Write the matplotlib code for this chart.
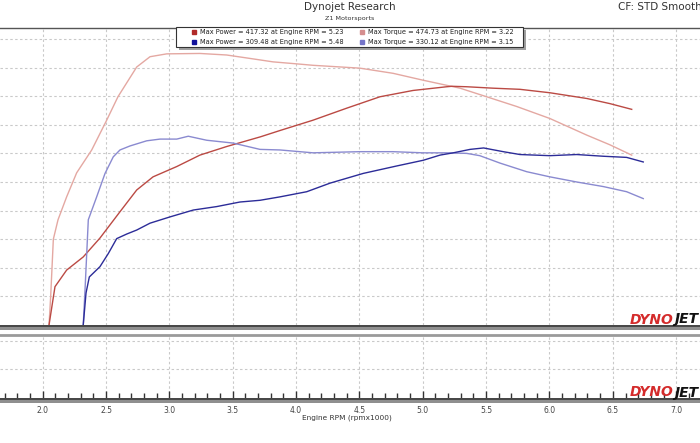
import numpy as np
import matplotlib.pyplot as plt
from matplotlib.patches import Rectangle
from matplotlib.lines import Line2D

# run 1 (rouge) - couple
rpm_tq1 = [2.05, 2.063, 2.084, 2.121, 2.189, 2.268, 2.387, 2.505, 2.594, 2.742, 2.847, 2.979,
           3.241, 3.452, 3.636, 3.818, 4.031, 4.133, 4.504, 4.765, 5.001, 5.189, 5.294, 5.504,
           5.741, 6.003, 6.294, 6.477, 6.649]
tq1 = [0, 50, 150, 184, 224, 266, 306, 358, 399, 451, 469, 474, 474.7, 472, 466, 460, 456, 454,
       449, 440, 428, 419, 414, 399, 382, 361, 332, 315, 297]
# run 1 (rouge) - puissance
rpm_hp1 = [2.05, 2.097, 2.189, 2.32, 2.452, 2.61, 2.742, 2.871, 3.058, 3.241, 3.452, 3.719, 3.873,
           4.133, 4.399, 4.662, 4.923, 5.189, 5.23, 5.347, 5.554, 5.767, 6.003, 6.294, 6.477, 6.649]
hp1 = [0, 67, 96, 119, 152, 198, 236, 259, 277, 297, 312, 329, 340, 358, 379, 399, 410, 416.5,
       417.3, 416.5, 414, 412, 406, 396, 387, 377]
# run 2 (bleu) - couple
rpm_tq2 = [2.32, 2.334, 2.36, 2.426, 2.492, 2.557, 2.61, 2.689, 2.821, 2.926, 3.058, 3.149, 3.294,
           3.504, 3.715, 3.873, 4.133, 4.504, 4.765, 5.001, 5.189, 5.347, 5.45, 5.61, 5.82, 6.003,
           6.215, 6.425, 6.609, 6.74]
tq2 = [0, 61, 184, 224, 265, 294, 306, 313, 322, 325, 325, 330, 323, 318, 307, 306, 301, 303, 303,
       301, 301, 300, 296, 283, 268, 259, 250, 242, 233, 221]
# run 2 (bleu) - puissance
rpm_hp2 = [2.32, 2.342, 2.368, 2.452, 2.518, 2.584, 2.663, 2.742, 2.847, 3.005, 3.189, 3.373, 3.557,
           3.715, 3.873, 4.084, 4.268, 4.53, 4.794, 5.004, 5.136, 5.241, 5.373, 5.48, 5.635, 5.767,
           6.003, 6.215, 6.425, 6.609, 6.74]
hp2 = [0, 56, 84, 102, 125, 151, 159, 166, 178, 189, 201, 207, 215, 218, 224, 233, 248, 265, 278,
       288, 297, 301, 307, 309.5, 303, 298, 296, 298, 295, 293, 285]

legend_labels = ["Max Power = 417.32 at Engine RPM = 5.23",
                 "Max Power = 309.48 at Engine RPM = 5.48",
                 "Max Torque = 474.73 at Engine RPM = 3.22",
                 "Max Torque = 330.12 at Engine RPM = 3.15"]
xticks = [2.0, 2.5, 3.0, 3.5, 4.0, 4.5, 5.0, 5.5, 6.0, 6.5, 7.0]

c_hp1, c_tq1 = '#bb4a44', '#e4a8a2'
c_hp2, c_tq2 = '#2c2c98', '#8a8ad0'
grid_kw = dict(color='#c9c9c9', ls=(0, (2.2, 2.2)), lw=0.8)

W, H = 700, 443
fig = plt.figure(figsize=(7, 4.43), dpi=100)
def fx(px): return px / W
def fy(py): return 1 - py / H

# panneau du haut
ax = fig.add_axes([0, fy(325), 1, (325 - 28) / H])
ax.set_xlim(1.663, 7.188)
ax.set_ylim(0, 519.2)
ax.set_xticks(xticks)
ax.set_yticks(np.arange(50, 501, 50))
ax.tick_params(length=0, labelbottom=False, labelleft=False)
ax.grid(True, **grid_kw)
for s in ['left', 'right', 'bottom']:
    ax.spines[s].set_visible(False)
ax.spines['top'].set_color('#555555')
ax.spines['top'].set_linewidth(1)

ax.plot(rpm_tq1, tq1, color=c_tq1, lw=1)
ax.plot(rpm_hp1, hp1, color=c_hp1, lw=1)
ax.plot(rpm_tq2, tq2, color=c_tq2, lw=1)
ax.plot(rpm_hp2, hp2, color=c_hp2, lw=1)

# panneau du bas
ax2 = fig.add_axes([0, fy(398), 1, (398 - 335) / H])
ax2.set_xlim(1.663, 7.188)
ax2.set_ylim(0, 63 / 28.6)
ax2.set_yticks([1, 2])
ax2.set_xticks(xticks)
ax2.set_xticklabels(['%.1f' % t for t in xticks])
ax2.set_xticks(np.arange(1.7, 7.15, 0.1), minor=True)
ax2.tick_params(axis='y', length=0, labelleft=False)
ax2.tick_params(axis='x', which='major', direction='in', length=5, width=1, color='#333333',
                labelsize=5.5, labelcolor='#444444', pad=6)
ax2.tick_params(axis='x', which='minor', direction='in', length=3.5, width=1, color='#333333')
ax2.grid(True, **grid_kw)
for s in ['left', 'right', 'bottom']:
    ax2.spines[s].set_visible(False)
ax2.spines['top'].set_color('#9a9a9a')
ax2.spines['top'].set_linewidth(2)

# barres grises
for top in [325, 398]:
    fig.add_artist(Rectangle((0, fy(top + 5)), 1, 5 / H, transform=fig.transFigure,
                             facecolor='#8f8f8f', edgecolor='none'))
    fig.add_artist(Line2D([0, 1], [fy(top + 0.5), fy(top + 0.5)], transform=fig.transFigure,
                          color='#3a3a3a', lw=1.2))

# logos
for base in [323.5, 396.5]:
    fig.text(fx(630), fy(base), 'DYNO', color='#d42b2b', fontsize=10, fontweight='heavy',
             style='italic', va='baseline')
    fig.text(fx(674), fy(base), 'JET', color='#111111', fontsize=10, fontweight='heavy',
             style='italic', va='baseline')

# titres
fig.text(0.5, fy(7), 'Dynojet Research', ha='center', va='center', fontsize=7.5, color='#333333')
fig.text(0.5, fy(18.5), 'Z1 Motorsports', ha='center', va='center', fontsize=4.6, color='#333333')
fig.text(fx(618), fy(7), 'CF: STD Smooth', ha='left', va='center', fontsize=7.5, color='#333333')
fig.text(0.495, fy(418), 'Engine RPM (rpmx1000)', ha='center', va='center', fontsize=5.3,
         color='#333333')

# légende
fig.add_artist(Rectangle((fx(179), fy(50)), (523 - 176) / W, 20 / H, transform=fig.transFigure,
                         facecolor='#a0a0a0', edgecolor='none'))
fig.add_artist(Rectangle((fx(176), fy(47)), (523 - 176) / W, 20 / H, transform=fig.transFigure,
                         facecolor='white', edgecolor='#333333', lw=0.8))
leg_colors = ['#b02a2a', '#10109a', '#d58e8e', '#7474c8']
leg_pos = [(194, 31.8), (194, 41.8), (362, 31.8), (362, 41.8)]
for lab, col, (px, py) in zip(legend_labels, leg_colors, leg_pos):
    fig.add_artist(Line2D([fx(px)], [fy(py)], transform=fig.transFigure, marker='s',
                          markersize=3, color=col, ls='none'))
    fig.text(fx(px + 6.5), fy(py), lab, ha='left', va='center', fontsize=4.8, color='#222222')

fig.savefig('out.png', dpi=100)
